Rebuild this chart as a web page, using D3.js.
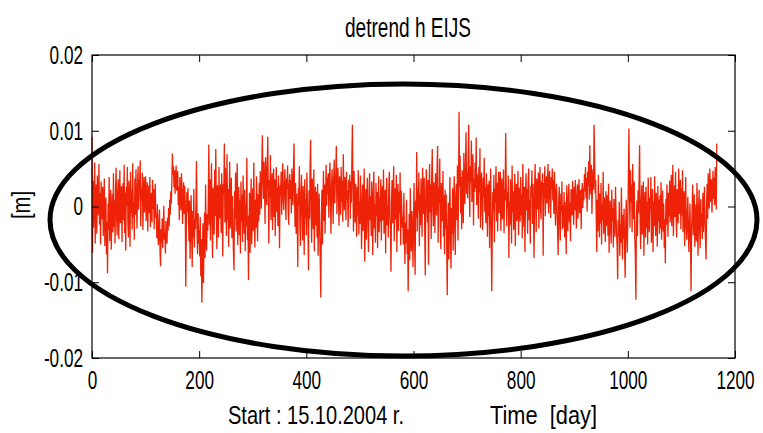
<!DOCTYPE html>
<html>
<head>
<meta charset="utf-8">
<script src="https://cdn.jsdelivr.net/npm/d3@7"></script>
<style>
  html, body { margin: 0; padding: 0; background: #fff; }
  svg { display: block; }
  text { font-family: "Liberation Sans", Arial, Helvetica, sans-serif; fill: #000; }
</style>
</head>
<body>
<svg id="chart" width="763" height="433"></svg>
<script>
// Detrended height residuals of station EIJS, daily solutions, in millimetres
const detrendH_mm = [
  9.2,-6.1,3.4,-2.8,1.5,5.8,-4.9,0.7,2.9,-3.6,4.1,-1.2,0.3,5.6,-2.4,1.8,-5.0,3.3,0.9,-1.7,
  2.6,-3.9,-0.8,3.7,-5.2,-1.5,1.2,-6.3,-2.0,-8.8,0.4,-3.1,3.9,-4.6,-0.6,2.2,-5.7,-1.9,1.6,-3.4,
  4.4,-2.7,0.8,-4.9,2.5,5.1,-1.6,-3.8,1.9,3.6,-4.3,0.2,4.8,-2.2,-0.5,2.7,-4.7,1.3,3.1,-1.8,
  5.5,-3.5,1.8,-5.8,2.6,0.1,5.2,-2.3,-4.1,3.4,1.0,-5.3,4.6,-0.9,2.1,-3.0,5.7,-1.4,0.6,-4.4,
  3.7,-1.1,4.9,0.5,-2.9,2.8,5.3,-0.4,1.9,3.6,6.1,-2.6,2.4,0.7,4.5,-3.1,1.6,3.9,-0.8,2.2,
  4.0,-1.9,1.5,3.2,-3.3,0.6,2.8,-0.9,3.9,-2.7,0.2,1.8,-2.1,3.5,-0.3,2.3,-3.0,1.1,3.0,-1.5,
  -1.0,-4.2,0.3,-3.6,-5.1,-2.2,-0.4,-6.0,-7.9,-3.0,-4.8,-1.6,-5.5,-2.7,0.1,-4.4,-3.3,-6.2,-1.9,-3.8,
  -4.9,-1.5,-3.2,-0.2,-2.6,0.9,-1.1,2.0,0.4,3.1,7.0,4.2,5.3,2.5,4.8,1.7,3.6,5.4,2.1,3.3,
  4.7,0.2,2.6,-1.8,3.9,1.1,-0.5,4.4,2.0,-2.3,1.4,3.2,-1.0,2.7,0.6,-10.6,-3.4,1.9,-0.7,2.4,
  -1.2,-4.6,0.8,-6.9,-2.5,1.5,-3.8,-8.0,-0.6,-4.1,2.3,-5.4,-1.7,-3.0,0.4,6.0,-2.8,-6.3,-0.9,-4.9,
  -3.1,-6.6,-1.4,-9.2,-4.3,-12.7,-7.1,-2.2,-10.1,-5.0,-0.8,-6.8,2.9,-3.9,-5.8,-1.0,-3.2,0.6,8.2,-2.4,
  3.6,-4.5,1.2,5.7,-2.0,-6.8,2.5,0.3,-3.7,4.9,-1.3,7.6,-0.2,-5.6,2.8,1.0,-4.1,5.2,-1.6,0.9,
  2.9,-3.5,4.4,0.6,-6.6,3.0,1.7,8.3,-2.1,5.1,-0.4,-3.9,6.9,-1.8,2.3,-5.3,0.5,5.9,-2.9,-0.7,
  3.8,-4.2,1.4,-2.5,-6.0,-8.4,2.0,-1.5,4.5,-3.3,0.2,5.7,-5.1,-1.0,2.6,-3.8,0.9,-6.2,3.3,-2.0,
  1.5,-4.7,4.1,-0.8,-3.6,2.2,-5.9,0.4,-2.6,6.4,-4.4,-1.2,-9.7,-3.0,1.8,-6.1,-0.3,3.7,-5.0,-1.9,
  2.4,-3.2,5.8,-1.7,-5.4,0.9,-2.8,4.0,-0.6,-4.6,1.6,-2.0,3.1,-1.1,4.7,2.0,-0.3,5.5,9.4,3.2,
  1.0,5.9,2.6,-2.3,6.5,3.9,0.2,4.8,9.2,2.2,-4.9,3.5,1.3,6.8,-1.8,0.7,4.4,-3.1,2.9,5.0,
  -1.4,3.6,-3.9,1.1,5.2,-0.7,2.5,-2.6,4.1,0.3,-5.5,2.8,1.5,4.6,-1.1,3.4,5.7,0.8,-0.5,3.0,
  4.9,1.2,-1.8,3.7,2.3,5.4,0.4,-2.4,2.9,4.3,1.0,3.5,-0.9,5.0,2.0,0.2,4.6,8.3,1.6,-2.7,
  3.1,-3.6,1.7,-1.2,-8.0,2.4,0.1,5.3,-2.9,-5.2,1.8,4.2,-0.7,-4.5,2.7,0.5,-6.4,3.6,-1.5,1.0,
  -3.8,4.5,0.6,-2.2,-8.4,2.1,-1.6,5.4,8.8,-0.9,-4.8,3.7,1.4,-3.0,4.9,-5.9,0.3,2.6,-2.5,1.9,
  -4.1,3.0,-6.5,-0.8,1.7,-3.3,-7.5,-12.0,-2.4,2.2,-5.0,0.6,4.7,-1.9,2.9,-3.6,1.2,5.5,0.1,3.8,
  1.6,4.4,-1.5,3.2,5.8,0.9,-3.6,2.5,4.9,1.8,-2.3,3.6,6.2,0.4,2.8,4.3,8.0,-1.0,3.0,5.1,
  1.3,-2.5,4.0,2.2,-1.1,5.2,0.6,3.4,-2.0,6.9,1.5,-0.5,3.9,2.6,-1.8,4.6,0.9,2.1,-2.7,3.5,
  1.8,4.2,-1.6,3.3,0.5,6.0,10.8,2.4,-3.3,4.7,1.1,-2.1,3.0,0.2,-4.0,2.6,-1.2,4.8,-3.7,0.7,
  -2.3,4.1,1.0,-5.6,-1.4,2.9,-3.2,0.5,5.0,-7.3,-0.9,2.3,-4.4,1.7,3.8,-2.6,-6.0,0.8,4.4,-1.8,
  1.4,-3.9,3.3,-0.7,-6.4,2.0,4.6,-2.9,0.3,-4.8,3.1,-1.3,1.9,-5.5,0.0,4.0,-3.4,1.2,-2.0,3.6,
  -4.5,0.9,2.7,-1.8,4.9,-3.6,-0.4,2.2,-6.2,1.5,3.8,-2.5,0.1,-4.1,2.9,4.6,-1.5,-3.0,-8.6,0.6,
  3.5,-2.2,1.3,5.3,-4.6,-0.6,2.4,-1.7,4.2,-6.0,0.7,3.0,-3.2,1.9,-0.9,4.5,-5.1,2.1,0.3,-2.8,
  -1.4,-5.0,1.8,-3.5,-7.6,-2.1,-4.8,0.9,-6.3,-3.0,-11.2,-5.5,-1.0,-7.1,2.4,-3.9,-5.9,-0.6,-2.6,-8.0,
  -2.2,3.1,-4.4,-9.0,0.8,-1.5,7.2,-3.3,2.4,-0.6,4.5,-5.2,1.6,-2.5,3.7,0.4,-4.0,5.1,1.2,-1.0,
  3.8,-3.4,-9.1,2.0,4.9,0.6,-2.1,3.5,-7.7,1.4,5.6,-0.8,2.9,-4.3,4.0,7.6,0.2,-2.6,3.2,1.0,
  -3.5,4.4,1.8,-1.2,5.3,8.0,-4.8,2.5,0.4,6.3,-2.7,-5.6,3.1,0.8,-1.9,4.7,-4.0,1.5,-6.3,2.2,
  -2.9,1.6,-5.3,-11.7,-3.1,0.5,-7.0,-1.4,3.9,-4.6,-8.2,-0.2,-3.6,2.4,-5.8,-1.1,4.0,-2.3,-6.4,1.3,
  3.0,-1.8,5.4,-4.5,1.2,12.5,2.6,6.7,-0.9,3.9,-3.0,4.8,1.5,-2.2,7.1,2.0,0.3,5.5,9.8,1.7,
  4.6,1.1,6.4,10.8,2.9,-1.4,5.3,3.2,8.7,0.6,4.0,6.9,-2.5,3.7,1.9,5.8,2.4,9.1,0.2,4.3,
  3.0,-1.6,5.2,1.8,7.7,-2.8,2.2,4.5,0.1,-3.1,3.8,1.2,6.4,-0.7,2.5,-2.2,4.4,0.8,-4.0,2.9,
  -1.3,3.4,-5.5,0.7,5.0,-2.6,-11.2,-3.8,1.9,-0.6,4.2,-4.7,2.3,0.5,5.3,-1.9,3.1,-3.3,1.6,4.6,
  -0.9,2.8,4.6,-3.2,1.4,3.7,-1.7,0.4,4.9,-3.5,2.2,0.8,9.7,3.3,-2.6,1.9,-0.3,4.1,-6.8,0.6,
  -2.4,3.6,1.1,-4.9,5.4,-0.8,2.0,-3.1,0.7,4.3,-5.2,1.5,3.0,-1.9,-0.2,4.7,-3.8,2.5,0.3,-2.0,
  3.9,-1.2,1.6,-4.2,5.6,0.3,-2.7,2.6,-6.0,1.0,4.4,-0.5,2.3,-3.6,3.2,5.0,-1.8,0.9,-4.9,2.7,
  1.3,4.8,-2.3,3.0,-1.0,-6.8,2.1,5.6,0.5,-3.4,3.7,1.8,-0.4,4.5,-2.9,2.4,5.2,0.0,-1.7,3.3,
  2.0,4.4,-6.5,3.1,1.0,5.3,-1.3,2.7,4.0,0.4,3.6,5.6,-0.9,2.3,4.7,1.4,-1.5,3.9,2.2,5.0,
  0.8,3.5,-1.0,4.6,2.0,-2.5,1.4,3.0,-0.6,-3.4,-6.4,0.9,2.6,-2.2,-4.5,1.7,-0.8,3.3,-3.0,0.2,
  -2.7,1.9,-4.1,0.6,-1.5,-6.3,2.8,-0.4,-3.3,1.2,3.0,-2.1,0.5,-4.6,2.3,1.0,-1.2,3.4,0.1,-2.4,
  2.6,-0.5,3.5,1.3,-2.9,0.7,2.9,-1.6,1.9,3.6,-0.9,0.4,2.2,-3.0,1.5,3.1,-0.2,2.4,0.8,4.3,
  2.0,5.2,1.1,3.8,-0.7,4.6,2.7,6.0,0.9,8.1,3.4,1.6,5.5,-1.0,3.0,4.9,2.2,10.8,6.3,1.8,
  3.5,-1.4,-6.0,0.9,-3.3,4.2,-0.6,-4.1,1.7,-2.2,3.1,-5.0,0.3,-1.8,4.6,-3.6,1.2,-0.9,-4.7,2.0,
  -2.6,1.5,-0.4,-3.9,3.0,-6.1,-1.3,0.8,-3.2,-4.9,2.2,-1.9,-0.2,-5.4,1.0,-2.7,-4.0,2.6,-1.1,-3.5,
  -5.2,-9.6,-1.8,-3.9,0.6,-6.5,-2.4,-4.8,2.5,-3.2,-7.0,-1.1,-4.3,-0.3,-5.7,-9.4,-2.5,0.9,-3.6,-6.1,
  -1.4,3.7,10.3,1.9,-2.8,4.8,0.5,2.9,-3.4,5.6,1.2,-1.7,3.3,-4.2,-6.5,-12.3,-2.0,0.8,-3.9,2.1,
  -0.9,3.6,8.1,-2.2,-5.6,0.4,2.8,-3.7,-1.1,3.3,-6.5,-0.2,1.9,-4.1,2.6,-2.8,0.6,-5.0,3.8,-1.5,
  -3.4,1.2,-0.5,3.9,-4.8,-1.7,2.3,-6.0,0.6,-2.6,4.0,-1.2,-3.9,1.8,-0.1,-5.3,2.7,-2.0,0.9,-3.6,
  1.5,-2.9,3.2,-4.4,-0.8,2.1,-3.3,0.4,-5.5,-1.7,-7.5,1.0,-2.4,2.9,-0.6,-4.0,1.8,-1.3,3.4,-2.1,
  0.5,4.2,-2.6,1.6,5.5,-3.9,0.0,2.8,-1.4,4.6,-0.7,-4.1,2.3,1.1,-2.2,5.0,-1.0,0.7,3.5,-3.0,
  2.4,-1.2,4.8,-3.4,0.8,2.0,-5.2,-0.9,3.9,-2.6,-4.4,-1.5,1.3,-3.7,-6.0,-2.0,0.4,-4.8,-11.2,-2.9,
  -0.6,2.9,-3.8,-1.4,1.6,-5.3,-2.2,0.3,-4.6,3.1,-1.9,-6.5,-0.4,2.2,-3.1,-5.5,1.0,-2.7,-0.9,-4.3,
  1.8,-3.4,-0.7,2.6,-2.3,-4.6,-7.0,0.5,3.0,-1.6,4.4,1.2,-0.3,5.0,2.3,0.6,3.6,-0.8,2.0,4.7,
  1.0,3.8,0.2,5.2,2.4,-0.4,8.3
];

const xTicks = [0, 200, 400, 600, 800, 1000, 1200];
const yTicks = [-0.02, -0.01, 0, 0.01, 0.02];
const yTickLabels = ["-0.02", "-0.01", "0", "0.01", "0.02"];

const chartTitle = "detrend h EIJS";
const startLabel = "Start : 15.10.2004 r.";
const timeLabel = "Time  [day]";
const yLabel = "[m]";

const svg = d3.select("#chart");
const plot = { left: 92, right: 735, top: 55, bottom: 358 };

const x = d3.scaleLinear().domain([0, 1200]).range([plot.left, plot.right]);
const y = d3.scaleLinear().domain([-0.02, 0.02]).range([plot.bottom, plot.top]);

// narrow, tall glyphs, like the classic plotting font
const squeeze = 0.66;
const tickFont = 26;
const tickLen = 7;

// data line
const series = detrendH_mm.map((v, i) => ({ day: i, h: v / 1000 }));
svg.append("path")
  .datum(series)
  .attr("fill", "none")
  .attr("stroke", "#ee2206")
  .attr("stroke-width", 1.3)
  .attr("stroke-linejoin", "miter")
  .attr("d", d3.line().x(d => x(d.day)).y(d => y(d.h)));

// axes box with inward ticks on all four sides
function styleAxis(g) {
  g.selectAll(".domain").remove();
  g.selectAll(".tick line").attr("stroke", "#000").attr("stroke-width", 1);
}

const gBottom = svg.append("g")
  .attr("transform", `translate(0,${plot.bottom})`)
  .call(d3.axisBottom(x).tickValues(xTicks).tickSizeInner(-tickLen).tickSizeOuter(0).tickPadding(13).tickFormat(d3.format("d")))
  .call(styleAxis);
gBottom.selectAll(".tick text")
  .attr("font-size", tickFont)
  .attr("font-family", "Liberation Sans, Arial, sans-serif")
  .attr("transform", `scale(${squeeze},1)`);

svg.append("g")
  .attr("transform", `translate(0,${plot.top})`)
  .call(d3.axisTop(x).tickValues(xTicks).tickSizeInner(-tickLen).tickSizeOuter(0).tickFormat(""))
  .call(styleAxis);

const gLeft = svg.append("g")
  .attr("transform", `translate(${plot.left},0)`)
  .call(d3.axisLeft(y).tickValues(yTicks).tickSizeInner(-tickLen).tickSizeOuter(0).tickPadding(10)
    .tickFormat((d, i) => yTickLabels[i]))
  .call(styleAxis);
gLeft.selectAll(".tick text")
  .attr("font-size", tickFont)
  .attr("font-family", "Liberation Sans, Arial, sans-serif")
  .attr("x", -9 / squeeze)
  .attr("transform", `scale(${squeeze},1)`);

svg.append("g")
  .attr("transform", `translate(${plot.right},0)`)
  .call(d3.axisRight(y).tickValues(yTicks).tickSizeInner(-tickLen).tickSizeOuter(0).tickFormat(""))
  .call(styleAxis);

svg.append("rect")
  .attr("x", plot.left).attr("y", plot.top)
  .attr("width", plot.right - plot.left).attr("height", plot.bottom - plot.top)
  .attr("fill", "none").attr("stroke", "#000").attr("stroke-width", 1.2);

// title and axis labels
svg.append("text")
  .attr("x", 408).attr("y", 37)
  .attr("text-anchor", "middle")
  .attr("font-size", 27)
  .attr("textLength", 126).attr("lengthAdjust", "spacingAndGlyphs")
  .text(chartTitle);

svg.append("text")
  .attr("x", 228).attr("y", 424)
  .attr("font-size", 26)
  .attr("textLength", 176).attr("lengthAdjust", "spacingAndGlyphs")
  .text(startLabel);

svg.append("text")
  .attr("x", 490).attr("y", 424)
  .attr("font-size", 26)
  .style("white-space", "pre")
  .attr("textLength", 107).attr("lengthAdjust", "spacingAndGlyphs")
  .text(timeLabel);

svg.append("text")
  .attr("transform", "translate(30,205) rotate(-90)")
  .attr("text-anchor", "middle")
  .attr("font-size", 26)
  .attr("textLength", 28).attr("lengthAdjust", "spacingAndGlyphs")
  .text(yLabel);

// highlight ring around the residual band
svg.append("ellipse")
  .attr("cx", 403.5).attr("cy", 220)
  .attr("rx", 353.5).attr("ry", 136)
  .attr("fill", "none")
  .attr("stroke", "#000")
  .attr("stroke-width", 5);
</script>
</body>
</html>
